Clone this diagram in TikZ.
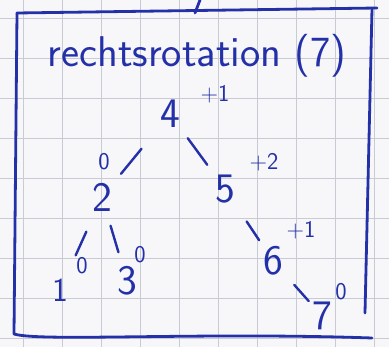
\documentclass[tikz,border=0pt]{standalone}
\usepackage{tikz}
\usetikzlibrary{positioning}
\definecolor{tinte}{RGB}{36,48,168}
\definecolor{karo}{RGB}{200,203,212}
\definecolor{papier}{RGB}{247,247,249}

\begin{document}
\begin{tikzpicture}[x=1pt, y=-1pt, on grid,
    schluessel/.style={text=tinte, font=\sffamily\fontsize{42}{42}\selectfont, inner sep=0pt},
    balance/.style={text=tinte, font=\sffamily\fontsize{24}{24}\selectfont, inner sep=0pt},
    ast/.style={draw=tinte, line width=2.4pt, line cap=round, shorten <=30pt, shorten >=30pt},
    rahmen/.style={draw=tinte, line width=2.8pt, line cap=round, line join=round}]
    \fill[papier] (0,0) rectangle (389,347);
    \useasboundingbox (0,0) rectangle (389,347);
    \foreach \x in {23,62,...,380}
        \draw[karo, line width=0.8pt] (\x,0) -- (\x,347);
    \foreach \y in {18,58,...,345}
        \draw[karo, line width=0.8pt] (0,\y) -- (389,\y);

    \draw[rahmen] (17,13) -- (377,8);
    \draw[rahmen] (372,9) -- (365,313);
    \draw[rahmen] (17,13) -- (14,334) .. controls (40,342) and (200,332) .. (372,338);
    \draw[rahmen] (200,0) -- (195,13);

    \node[text=tinte, font=\sffamily\fontsize{43}{43}\selectfont, inner sep=0pt, anchor=base] (titel) at (197,67) {rechtsrotation (7)};

    \node[schluessel] (n4) at (170,114) {4};
    \node[schluessel, below left=83pt and 68pt of n4] (n2) {2};
    \node[schluessel, below right=75pt and 55pt of n4] (n5) {5};
    \node[schluessel, scale=0.8, below left=93pt and 42pt of n2] (n1) {1};
    \node[schluessel, below right=84pt and 25pt of n2] (n3) {3};
    \node[schluessel, below right=72pt and 48pt of n5] (n6) {6};
    \node[schluessel, below right=55pt and 49pt of n6] (n7) {7};

    \node[balance, above right=20pt and 45pt of n4] (b4) {+1};
    \node[balance, above right=35pt and 2pt of n2] (b2) {0};
    \node[balance, above right=27pt and 39pt of n5] (b5) {+2};
    \node[balance, above right=24pt and 22pt of n1] (b1) {0};
    \node[balance, above right=26pt and 13pt of n3] (b3) {0};
    \node[balance, above right=31pt and 28pt of n6] (b6) {+1};
    \node[balance, above right=24pt and 19pt of n7] (b7) {0};

    \path[ast]
        (n4.center) edge (n5.center)
        (n4.center) edge[shorten <=45pt] (n2.center)
        (n2.center) edge[shorten <=38pt, shorten >=38pt] (n1.center)
        (n2.center) edge (n3.center)
        (n5.center) edge[shorten <=39pt, shorten >=25pt] (n6.center)
        (n6.center) edge[shorten <=32pt, shorten >=20pt] (n7.center);
\end{tikzpicture}
\end{document}
